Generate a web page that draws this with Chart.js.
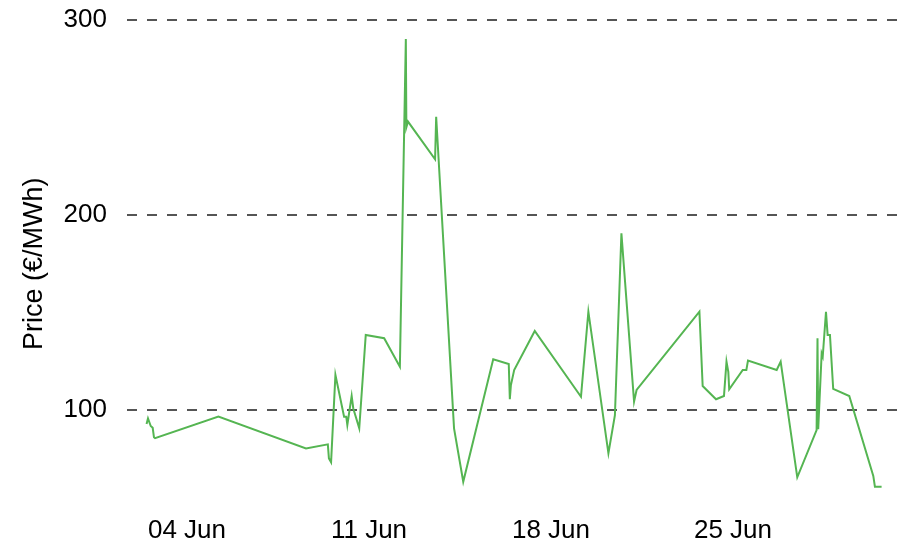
<!DOCTYPE html>
<html>
<head>
<meta charset="utf-8">
<script src="https://cdn.jsdelivr.net/npm/chart.js@4"></script>
<style>
html,body{margin:0;padding:0;background:#fff;overflow:hidden;}
#wrap{width:899px;height:544px;position:relative;}
</style>
</head>
<body>
<div id="wrap"><canvas id="c"></canvas></div>
<script>
// Timestamps (UTC) and prices (€/MWh)
const times = [
  "2023-06-02T10:40","2023-06-02T12:00","2023-06-02T14:30","2023-06-02T16:20","2023-06-02T17:30","2023-06-02T18:30",
  "2023-06-05T05:00","2023-06-08T13:50","2023-06-09T10:00","2023-06-09T11:00","2023-06-09T13:00","2023-06-09T17:00",
  "2023-06-10T01:00","2023-06-10T03:00","2023-06-10T04:00","2023-06-10T08:00","2023-06-10T09:30","2023-06-10T15:00",
  "2023-06-10T21:00","2023-06-11T14:00","2023-06-12T04:30","2023-06-12T10:00","2023-06-12T10:30","2023-06-12T12:00",
  "2023-06-13T13:00","2023-06-13T14:00","2023-06-14T06:30","2023-06-14T15:00","2023-06-15T18:40","2023-06-16T09:00",
  "2023-06-16T10:00","2023-06-16T11:00","2023-06-16T14:00","2023-06-17T09:00","2023-06-19T03:40","2023-06-19T10:30",
  "2023-06-20T05:00","2023-06-20T11:00","2023-06-20T17:00","2023-06-21T04:40","2023-06-21T07:00","2023-06-23T17:00",
  "2023-06-23T20:00","2023-06-24T08:20","2023-06-24T15:40","2023-06-24T18:00","2023-06-24T19:40","2023-06-24T20:30",
  "2023-06-25T09:00","2023-06-25T12:20","2023-06-25T13:50","2023-06-26T16:20","2023-06-26T20:00","2023-06-27T11:20",
  "2023-06-28T05:10","2023-06-28T06:00","2023-06-28T06:40","2023-06-28T09:50","2023-06-28T10:50","2023-06-28T13:50",
  "2023-06-28T15:20","2023-06-28T17:30","2023-06-28T20:30","2023-06-29T11:20","2023-06-30T09:30","2023-06-30T11:00",
  "2023-06-30T17:10"
];
const prices = [
  92.8, 95.7, 91.8, 90.9, 86.0, 85.6,
  96.6, 80.3, 82.4, 75.2, 73.2, 118.0,
  96.6, 96.6, 92.3, 107.2, 100.8, 90.6,
  138.5, 136.8, 122.2, 290.3, 245.0, 247.9,
  228.6, 250.4, 90.6, 63.2, 126.0, 123.6,
  105.5, 112.8, 120.5, 140.5, 106.8, 150.4,
  77.8, 97.4, 190.6, 104.3, 110.3, 150.4,
  112.3, 105.5, 107.2, 124.8, 119.6, 110.6,
  120.5, 120.5, 125.3, 120.5, 124.8, 65.5,
  89.7, 136.8, 90.1, 129.0, 127.4, 150.4,
  138.5, 138.5, 110.8, 107.2, 66.2, 60.7,
  60.7
];
const xTickDates = ["2023-06-04T00:00","2023-06-11T00:00","2023-06-18T00:00","2023-06-25T00:00"];
const xTickLabels = ["04 Jun","11 Jun","18 Jun","25 Jun"];
const yTicks = [100, 200, 300];
const yTitle = "Price (€/MWh)";

const toMs = s => new Date(s + ":00Z").getTime();
const DAY = 86400000;
const xTickVals = xTickDates.map(toMs);
const points = times.map((t, i) => ({x: toMs(t), y: prices[i]}));
const jun4 = xTickVals[0];

new Chart(document.getElementById('c'), {
  type: 'line',
  data: {
    datasets: [{
      data: points,
      borderColor: '#55b552',
      borderWidth: 2,
      pointRadius: 0,
      tension: 0,
      fill: false
    }]
  },
  options: {
    responsive: true,
    maintainAspectRatio: false,
    animation: false,
    layout: {padding: 0},
    plugins: {legend: {display: false}, tooltip: {enabled: false}},
    scales: {
      x: {
        type: 'linear',
        min: jun4 - (60 / 26) * DAY,
        max: jun4 + (712 / 26) * DAY,
        grid: {display: false, drawTicks: false},
        border: {display: false},
        afterBuildTicks: s => { s.ticks = xTickVals.map(v => ({value: v})); },
        afterFit: s => { s.height = 36.5; s.paddingLeft = 0; s.paddingRight = 0; },
        ticks: {
          autoSkip: false,
          maxRotation: 0,
          padding: 10.5,
          color: '#000',
          font: {family: '"Liberation Sans", Arial, sans-serif', size: 26, lineHeight: 1},
          callback: v => { const i = xTickVals.indexOf(v); return i >= 0 ? xTickLabels[i] : ''; }
        }
      },
      y: {
        min: 50,
        max: 300,
        border: {display: false, dash: [10, 10]},
        grid: {color: '#555555', lineWidth: 2, drawTicks: false},
        afterBuildTicks: s => { s.ticks = yTicks.map(v => ({value: v})); },
        afterFit: s => { s.width = 127; s.paddingTop = 20; s.paddingBottom = 0; },
        ticks: {
          padding: 20,
          color: '#000',
          font: {family: '"Liberation Sans", Arial, sans-serif', size: 26}
        },
        title: {
          display: true,
          text: yTitle,
          color: '#000',
          padding: {top: 18, bottom: 0},
          font: {family: '"Liberation Sans", Arial, sans-serif', size: 27}
        }
      }
    }
  }
});
</script>
</body>
</html>
